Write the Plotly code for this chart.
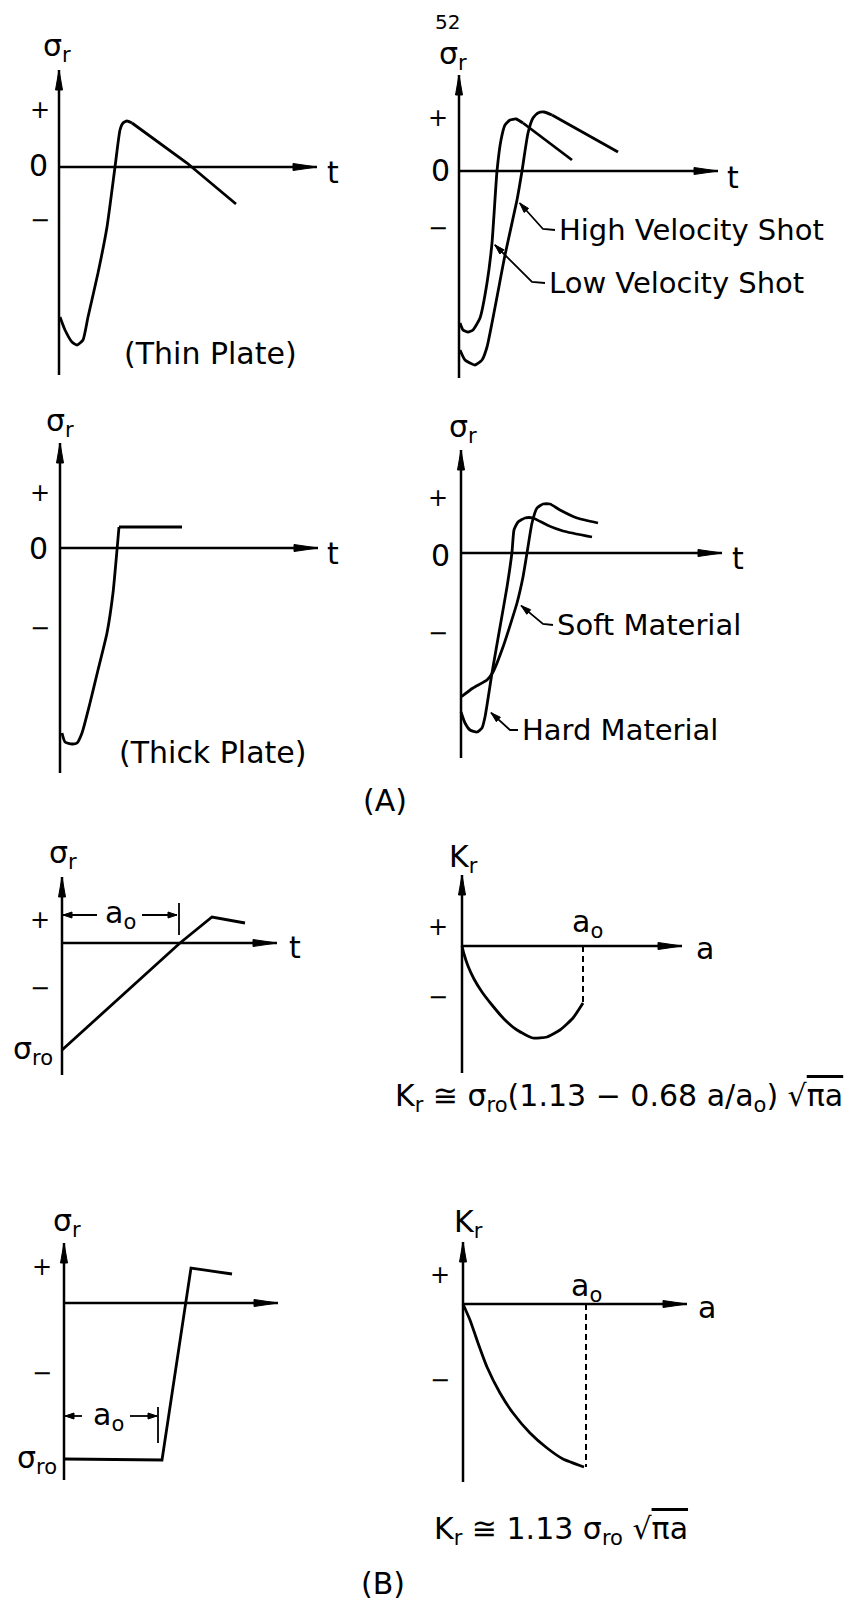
import plotly.graph_objects as go

W, H = 853, 1601
INK = "black"
FONT = "DejaVu Sans"

# ---------------------------------------------------------------------------
# Curve data.  Each panel has its own pair of axes; t (or a) runs to the
# right of the vertical axis and sigma_r (or K_r) runs up from the t axis.
# ---------------------------------------------------------------------------
# (A) thin plate
thin_t = [1, 6, 13, 18, 24, 29, 39, 48, 56, 61, 64, 68, 73, 128, 177]
thin_s = [-150, -163, -175, -178, -173, -150, -106, -60, 0, 37, 44, 46, 44, 4, -37]

# (A) low / high velocity shot
low_t = [1, 4, 9, 14, 21, 28, 33, 38, 42, 46, 51, 57, 64, 113]
low_s = [-152, -159, -161, -159, -147, -112, -72, 0, 31, 46, 51, 52, 48, 11]
high_t = [1, 6, 16, 23, 28, 46, 58, 63, 69, 74, 79, 85, 93, 159]
high_s = [-179, -189, -194, -189, -176, -84, -29, 0, 38, 53, 58, 59, 56, 19]

# (A) thick plate
thick_t = [2, 5, 12, 17, 22, 30, 38, 47, 53, 57, 59, 122]
thick_s = [-185, -194, -196, -195, -185, -155, -122, -85, -45, -2, 21, 21]

# (A) hard / soft material
hard_t = [0, 4, 9, 16, 21, 24, 31, 39, 46, 51, 53, 57, 64, 72, 86, 102, 131]
hard_s = [-159, -170, -177, -179, -175, -164, -120, -74, -34, 1, 23, 31, 35, 35, 28, 22, 16]
soft_t = [0, 12, 26, 32, 42, 56, 62, 66, 71, 76, 82, 89, 99, 116, 137]
soft_s = [-144, -135, -127, -119, -94, -50, -24, 0, 30, 45, 49, 49, 43, 35, 30]

# (B) linear ramp of residual stress and its K_r
ramp_t = [0, 118, 150, 183]
ramp_s = [-107, 0, 26, 20]
ramp_a = [0, 2, 6, 12, 20, 30, 42, 55, 71, 85, 98, 111, 121]
ramp_k = [0, -8, -20, -33, -46, -59, -73, -84, -92, -91, -84, -72, -57]

# (B) uniform (step) residual stress and its K_r
step_t = [1, 98, 127, 168]
step_s = [-156, -157, 35, 29]
step_a = [0, 7, 15, 24, 37, 50, 67, 84, 100, 121]
step_k = [0, -16, -39, -63, -89, -109, -129, -144, -155, -163]

# crack length a0 marked on each K_r panel
a0_ramp = 121
a0_step = 123

# ---------------------------------------------------------------------------
# Panel frames: page origin (px), axis ranges, vertical axis extent, t-axis tip
# ---------------------------------------------------------------------------
panels = {
    1: dict(origin=(59, 167), xr=(-50, 300), yr=(-215, 130), top=97, bot=-208, tip=258),
    2: dict(origin=(459, 171), xr=(-50, 380), yr=(-215, 160), top=96, bot=-207, tip=259),
    3: dict(origin=(60, 548), xr=(-50, 300), yr=(-230, 135), top=105, bot=-225, tip=258),
    4: dict(origin=(461, 553), xr=(-50, 310), yr=(-215, 135), top=103, bot=-205, tip=261),
    5: dict(origin=(62, 943), xr=(-50, 260), yr=(-140, 100), top=66, bot=-132, tip=215),
    6: dict(origin=(462, 946), xr=(-50, 260), yr=(-140, 100), top=71, bot=-127, tip=220),
    7: dict(origin=(64, 1303), xr=(-50, 260), yr=(-185, 95), top=60, bot=-177, tip=214),
    8: dict(origin=(463, 1304), xr=(-50, 260), yr=(-185, 95), top=62, bot=-178, tip=224),
}

fig = go.Figure()


def xa(i):
    return "x" if i == 1 else f"x{i}"


def ya(i):
    return "y" if i == 1 else f"y{i}"


# one pair of axes per panel, 1 data unit = 1 px in both directions
for i, p in panels.items():
    ox, oy = p["origin"]
    xr, yr = p["xr"], p["yr"]
    xd = [(ox + xr[0]) / W, (ox + xr[1]) / W]
    yd = [1 - (oy - yr[0]) / H, 1 - (oy - yr[1]) / H]
    suffix = "" if i == 1 else str(i)
    fig.update_layout(**{
        f"xaxis{suffix}": dict(domain=xd, range=list(xr), visible=False,
                               anchor=ya(i), fixedrange=True),
        f"yaxis{suffix}": dict(domain=yd, range=list(yr), visible=False,
                               anchor=xa(i), fixedrange=True),
    })


def line(i, xs, ys, width=2.8, smooth=False, dash=None):
    fig.add_trace(go.Scatter(
        x=xs, y=ys, xaxis=xa(i), yaxis=ya(i), mode="lines",
        line=dict(color=INK, width=width, dash=dash,
                  shape="spline" if smooth else "linear",
                  smoothing=0.5 if smooth else None),
        hoverinfo="skip", showlegend=False))


def curve(i, xs, ys, k=None):
    """Smooth through the first k points, straight after that."""
    if k is None:
        line(i, xs, ys, smooth=True)
    else:
        line(i, xs[:k], ys[:k], smooth=True)
        line(i, xs[k - 1:], ys[k - 1:])


def head(i, tip, direction, length=20, half=3.5):
    x, y = tip
    dx, dy = direction
    n = (dx * dx + dy * dy) ** 0.5
    dx, dy = dx / n, dy / n
    bx, by = x - dx * length, y - dy * length
    px, py = -dy * half, dx * half
    path = f"M{x},{y} L{bx + px},{by + py} L{bx - px},{by - py} Z"
    fig.add_shape(type="path", path=path, xref=xa(i), yref=ya(i),
                  fillcolor=INK, line=dict(color=INK, width=1))


def text(i, x, y, s, size=28, xanchor="center"):
    fig.add_annotation(x=x, y=y, xref=xa(i), yref=ya(i), text=s, showarrow=False,
                       xanchor=xanchor, yanchor="middle",
                       font=dict(family=FONT, size=size, color=INK))


def page_text(px, py, s, size=28, xanchor="center"):
    fig.add_annotation(x=px / W, y=1 - py / H, xref="paper", yref="paper", text=s,
                       showarrow=False, xanchor=xanchor, yanchor="middle",
                       font=dict(family=FONT, size=size, color=INK))


# axes with arrows
for i, p in panels.items():
    line(i, [0, 0], [p["bot"], p["top"]], width=2.5)
    line(i, [0, p["tip"]], [0, 0], width=2.5)
    head(i, (0, p["top"]), (0, 1), length=20, half=3.5)
    head(i, (p["tip"], 0), (1, 0), length=24, half=3.5)

SIG = "σ<sub>r</sub>"
KR = "K<sub>r</sub>"
A0 = "a<sub>o</sub>"
SRO = "σ<sub>ro</sub>"

# axis lettering: (panel, x, y, text)
axis_labels = [
    (1, -2, 120, SIG), (1, -19, 57, "+"), (1, -21, 2, "0"), (1, -19, -53, "−"), (1, 274, -5, "t"),
    (2, -6, 116, SIG), (2, -21, 53, "+"), (2, -19, 1, "0"), (2, -21, -57, "−"), (2, 274, -6, "t"),
    (3, 0, 126, SIG), (3, -20, 55, "+"), (3, -22, 0, "0"), (3, -20, -80, "−"), (3, 273, -5, "t"),
    (4, 2, 125, SIG), (4, -23, 55, "+"), (4, -21, -2, "0"), (4, -23, -80, "−"), (4, 277, -5, "t"),
    (5, 1, 88, SIG), (5, -22, 23, "+"), (5, -22, -45, "−"), (5, 233, -5, "t"),
    (6, 1, 88, KR), (6, -24, 19, "+"), (6, -24, -51, "−"), (6, 243, -2, "a"),
    (7, 3, 81, SIG), (7, -22, 36, "+"), (7, -22, -70, "−"),
    (8, 5, 81, KR), (8, -23, 29, "+"), (8, -23, -76, "−"), (8, 244, -3, "a"),
]
for i, x, y, s in axis_labels:
    if s in ("+", "−"):
        size = 24
    elif s == "0":
        size = 30
    else:
        size = 30
    text(i, x, y, s, size=size)

# ---- (A) curves ----
curve(1, thin_t, thin_s, k=13)
text(1, 151, -186, "(Thin Plate)", size=30)

curve(2, low_t, low_s, k=13)
curve(2, high_t, high_s, k=13)
text(2, -12, 149, "52", size=20)

curve(3, thick_t, thick_s, k=11)
text(3, 153, -204, "(Thick Plate)", size=30)

curve(4, hard_t, hard_s)
curve(4, soft_t, soft_s)

# leader lines: (panel, point on curve, bend, stub end, label)
leaders = [
    (2, (58, -29), (84, -58), (96, -59), "High Velocity Shot"),
    (2, (33, -71), (73, -111), (86, -112), "Low Velocity Shot"),
    (4, (57, -50), (82, -71), (92, -72), "Soft Material"),
    (4, (27, -157), (49, -177), (57, -177), "Hard Material"),
]
for i, pt, bend, end, s in leaders:
    dx, dy = pt[0] - bend[0], pt[1] - bend[1]
    n = (dx * dx + dy * dy) ** 0.5
    stop = (pt[0] - dx / n * 4, pt[1] - dy / n * 4)
    line(i, [end[0], bend[0], stop[0]], [end[1], bend[1], stop[1]], width=1.8)
    head(i, stop, (dx, dy), length=10, half=3)
    text(i, end[0] + 2, end[1], s, size=29, xanchor="left")

page_text(385, 800, "(A)", size=30)

# ---- (B) linear ramp ----
line(5, ramp_t, ramp_s)
text(5, -7, ramp_s[0], SRO, size=30, xanchor="right")
# a0 dimension
line(5, [1, 35], [28, 28], width=1.8)
head(5, (1, 28), (-1, 0), length=9, half=3)
line(5, [80, 115], [28, 28], width=1.8)
head(5, (115, 28), (1, 0), length=9, half=3)
line(5, [117, 117], [8, 40], width=1.8)
text(5, 58, 28, A0, size=30)

curve(6, ramp_a, ramp_k)
line(6, [a0_ramp, a0_ramp], [0, ramp_k[-1]], width=2, dash="6px,4px")
text(6, 125, 23, A0, size=30)
page_text(619, 1097,
          "K<sub>r</sub> ≅ σ<sub>ro</sub>(1.13 − 0.68 a/a<sub>o</sub>) "
          "√<span style='text-decoration:overline'>πa</span>", size=30)

# ---- (B) uniform stress ----
line(7, step_t, step_s)
text(7, -5, step_s[0], SRO, size=30, xanchor="right")
line(7, [1, 18], [-113, -113], width=1.8)
head(7, (1, -113), (-1, 0), length=9, half=3)
line(7, [66, 93], [-113, -113], width=1.8)
head(7, (93, -113), (1, 0), length=9, half=3)
line(7, [94, 94], [-104, -140], width=1.8)
text(7, 44, -113, A0, size=30)

curve(8, step_a, step_k)
line(8, [a0_step, a0_step], [0, step_k[-1]], width=2, dash="6px,4px")
text(8, 123, 17, A0, size=30)
page_text(561, 1530,
          "K<sub>r</sub> ≅ 1.13 σ<sub>ro</sub> "
          "√<span style='text-decoration:overline'>πa</span>", size=30)

page_text(383, 1583, "(B)", size=30)

fig.update_layout(
    width=W, height=H,
    margin=dict(l=0, r=0, t=0, b=0),
    paper_bgcolor="white", plot_bgcolor="white",
    showlegend=False,
)

fig.write_html("out.html")
